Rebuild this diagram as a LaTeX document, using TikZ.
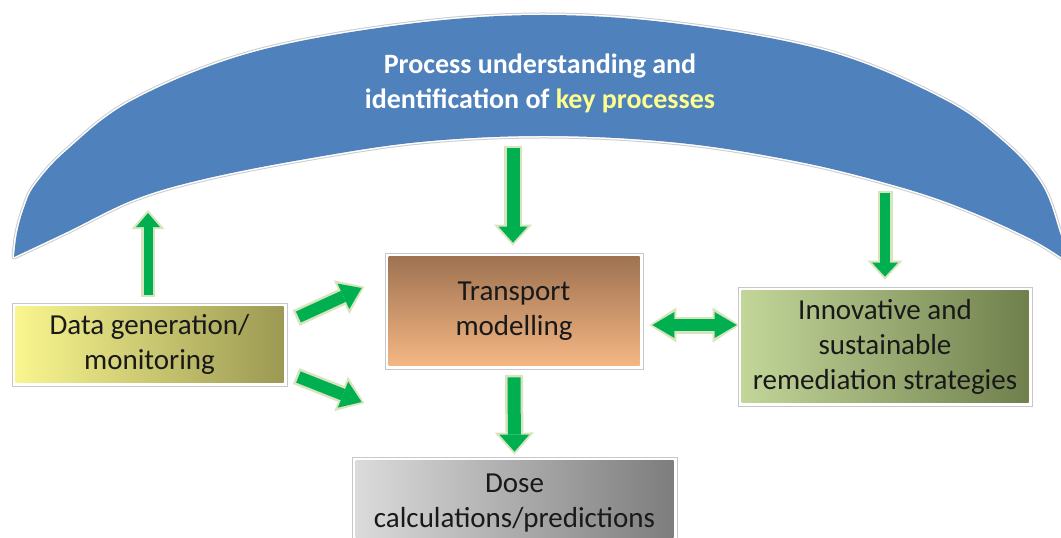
\documentclass[tikz,border=0pt]{standalone}
\usepackage{fontspec}
\setmainfont{Carlito}
\usetikzlibrary{arrows.meta,calc}
\definecolor{arcblue}{HTML}{4F81BD}
\definecolor{agreen}{HTML}{00B050}
\definecolor{apale}{HTML}{D7E4BD}
\definecolor{keyyellow}{HTML}{FFFF8F}
\definecolor{dataL}{HTML}{FAF790}
\definecolor{dataR}{HTML}{9A9852}
\definecolor{trT}{HTML}{9C7050}
\definecolor{trB}{HTML}{F7B985}
\definecolor{doseL}{HTML}{DCDCDC}
\definecolor{doseR}{HTML}{7C7C7C}
\definecolor{innL}{HTML}{C4D79A}
\definecolor{innR}{HTML}{6F7F4C}
\newcommand\blockarr[5]{%
  \pgfmathsetmacro\bAow{#1+5}\pgfmathsetmacro\bAhw{#2+9}\pgfmathsetmacro\bAhl{#3+5}%
  \draw[apale, line width=\bAow pt, shorten <=-2.5pt, shorten >=-3pt,
        -{Triangle[width=\bAhw pt,length=\bAhl pt,line width=0pt]}] #4 -- #5;
  \draw[agreen, line width=#1pt, -{Triangle[width=#2pt,length=#3pt,line width=0pt]}] #4 -- #5;}
\begin{document}
\begin{tikzpicture}[x=1pt,y=-1pt,
  box/.style={draw=black!22, line width=0.8pt, fill=white, inner sep=0pt, align=center,
    font=\fontsize{29}{35}\selectfont, text=black!90,
    path picture={\shade[#1] ($(path picture bounding box.south west)+(3.5pt,3.5pt)$)
      rectangle ($(path picture bounding box.north east)+(-3.5pt,-3.5pt)$);}},
  title/.style={align=center, text=white, font=\fontsize{28}{35}\selectfont\bfseries}
]
\clip (0,0) rectangle (1061,538);
% crescent
\def\crescent{plot[smooth, tension=0.6] coordinates {(14,257) (17,233) (24,208) (35,185) (67,150) (133,100) (250,53) (400,25) (540,15) (680,24) (830,52) (945,100) (1005,143) (1042,185) (1060,233) (1068,262)}
  -- plot[smooth, tension=0.6] coordinates {(1068,262) (1033,240) (967,210) (900,187) (800,162) (680,143) (548,136) (420,142) (300,160) (200,180) (133,200) (67,232) (14,257)} -- cycle}
\path[draw=black!20, line width=5pt, line join=round] \crescent;
\path[draw=white, line width=3pt, line join=round] \crescent;
\path[fill=arcblue] \crescent;
\node[title] (arc) at (540,83) {Process understanding and\\identification of \textcolor{keyyellow}{key processes}};

% boxes
\node[box={left color=dataL, right color=dataR}, minimum width=275pt, minimum height=83pt] (data) at (149.5,344.5) {Data generation/\\monitoring};
\node[box={top color=trT, bottom color=trB}, minimum width=258pt, minimum height=116pt] (tr) at (514,311) {Transport\\modelling};
\node[box={left color=doseL, right color=doseR}, minimum width=325pt, minimum height=92pt] (dose) at (514.5,503) {Dose\\calculations/predictions};
\node[box={left color=innL, right color=innR}, minimum width=294pt, minimum height=119pt] (inn) at (885,346.5) {Innovative and\\sustainable\\remediation strategies};

% free ends
\coordinate (c1) at (148,213);
\coordinate (c2) at (513,148);
\coordinate (c3) at (885,193);

% arrows
\blockarr{9}{24}{14}{([xshift=-1.5pt,yshift=8pt]data.north)}{(c1)}
\blockarr{13}{29}{16}{(c2)}{([xshift=-1pt,yshift=10pt]tr.north)}
\blockarr{10}{26}{14}{(c3)}{([yshift=10pt]inn.north)}
\blockarr{13}{30}{17}{([yshift=-8pt]tr.south)}{([yshift=5pt]dose.north)}
\blockarr{12}{28}{20}{([xshift=11pt,yshift=27.5pt]data.east)}{([xshift=-23pt,yshift=23pt]tr.west)}
\blockarr{12}{28}{20}{([xshift=11pt,yshift=-32.5pt]data.east)}{([xshift=-23pt,yshift=-91pt]tr.west)}
% double arrow
\draw[apale, line width=17pt, shorten <=-3pt, shorten >=-3pt,
  {Triangle[width=35pt,length=27pt,line width=0pt]}-{Triangle[width=35pt,length=27pt,line width=0pt]}]
  ([xshift=9pt,yshift=-14pt]tr.east) -- ([xshift=-1pt,yshift=21.5pt]inn.west);
\draw[agreen, line width=12pt,
  {Triangle[width=26pt,length=22pt,line width=0pt]}-{Triangle[width=26pt,length=22pt,line width=0pt]}]
  ([xshift=9pt,yshift=-14pt]tr.east) -- ([xshift=-1pt,yshift=21.5pt]inn.west);
\end{tikzpicture}
\end{document}
